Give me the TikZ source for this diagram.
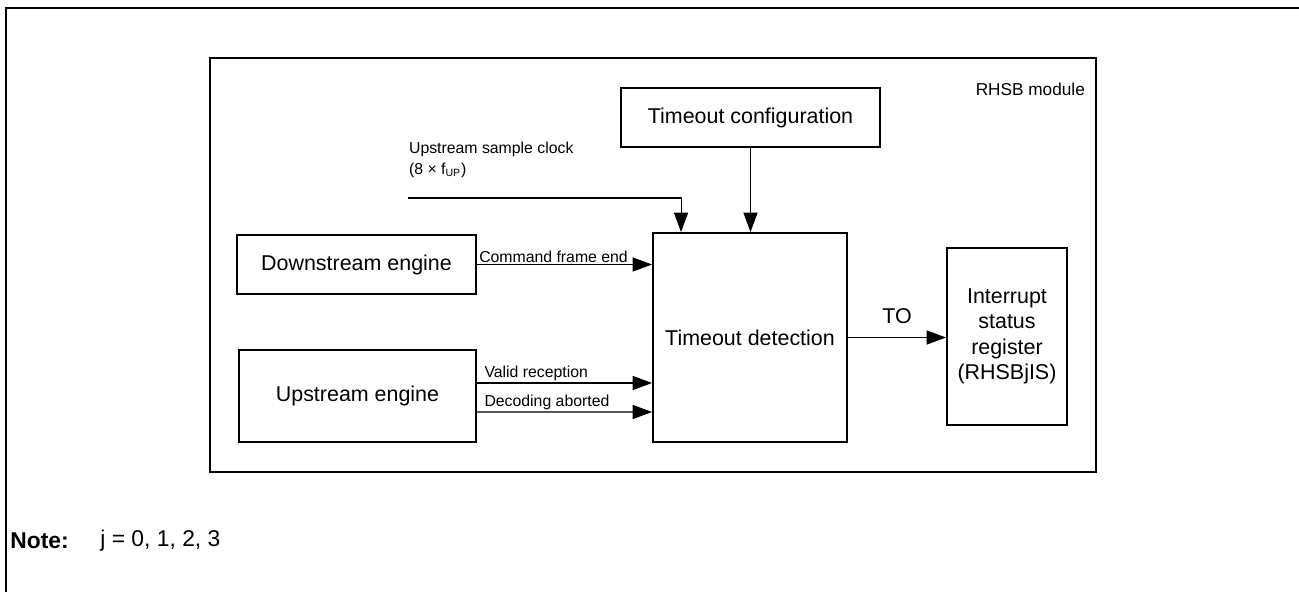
\documentclass[tikz,border=0pt]{standalone}
\usepackage{fontspec}
\setmainfont{Liberation Sans}
\usetikzlibrary{calc,arrows.meta}

\begin{document}
\begin{tikzpicture}[
    block/.style={draw, line width=1.1pt, rectangle, align=center, inner sep=2pt,
                  font=\fontsize{12.2}{14.4}\selectfont},
    lbl/.style={font=\fontsize{9}{12}\selectfont, inner sep=1pt},
    conn/.style={line width=0.6pt, -{Triangle[length=11pt,width=8pt]}}
  ]
  \useasboundingbox (0,0) rectangle (25.98,-11.84);

  % Outer frame (top and left only)
  \draw[line width=1.7pt] (0.12,-11.84) |- (25.98,-0.16);

  % RHSB module
  \draw[line width=1.1pt] (4.2,-1.16) rectangle (21.92,-9.44);
  \node[lbl, anchor=east, font=\fontsize{9.8}{12}\selectfont] (modname) at (21.74,-1.78) {RHSB module};

  % Blocks
  \node[block, minimum width=5.18cm, minimum height=1.18cm] (config) at (15.01,-2.35) {Timeout configuration};
  \node[block, minimum width=3.88cm, minimum height=4.18cm] (detect) at (15.0,-6.75) {Timeout detection};
  \node[block, minimum width=4.78cm, minimum height=1.18cm] (down) at (7.13,-5.29) {Downstream engine};
  \node[block, minimum width=4.74cm, minimum height=1.84cm] (up) at (7.15,-7.92) {Upstream engine};
  \node[block, minimum width=2.4cm, minimum height=3.54cm] (irq) at (20.14,-6.73)
    {Interrupt\\status\\register\\(RHSBjIS)};

  % Sample clock input
  \coordinate (clk) at (8.16,-3.96);
  \node[lbl, anchor=north west, align=left] (clktxt) at (8.14,-2.8)
    {Upstream sample clock\\(8 × f\textsubscript{UP})};
  \draw[conn] (clk) -| ($(detect.north west)+(0.58,0)$);

  % Configuration into detection
  \draw[conn] (config.south) -- (config.south |- detect.north);

  % Engine signals
  \draw[conn] (down.east) -- node[lbl, pos=0, anchor=south west] (cfe) {Command frame end} (down.east -| detect.west);
  \draw[conn] ([yshift=0.26cm]up.east) -- node[lbl, pos=0, anchor=south west, xshift=3pt] (vr) {Valid reception}
    ($(up.east -| detect.west)+(0,0.26)$);
  \draw[conn] ([yshift=-0.32cm]up.east) -- node[lbl, pos=0, anchor=south west, xshift=3pt] (da) {Decoding aborted}
    ($(up.east -| detect.west)+(0,-0.32)$);

  % Timeout output
  \draw[conn] (detect.east) -- node[above, yshift=4pt, font=\fontsize{12.2}{14}\selectfont] (to) {TO} (detect.east -| irq.west);

  % Note
  \node[anchor=west, font=\bfseries\fontsize{13}{16}\selectfont, inner sep=0pt] (note) at (0.2,-10.82) {Note:};
  \node[anchor=west, font=\fontsize{13}{16}\selectfont, inner sep=0pt] (notetxt) at (2.0,-10.82) {j = 0, 1, 2, 3};
\end{tikzpicture}
\end{document}
